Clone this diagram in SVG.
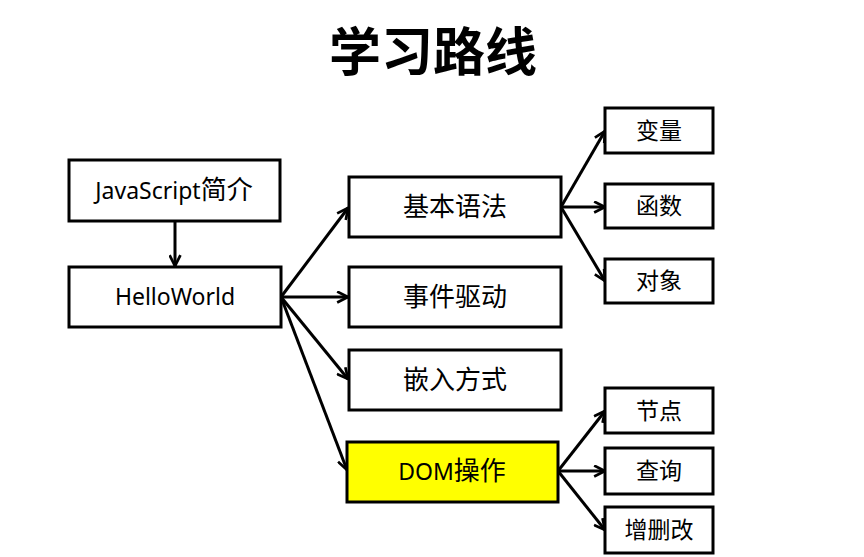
<svg xmlns="http://www.w3.org/2000/svg" width="864" height="557" viewBox="0 0 864 557">
<style>
.box{fill:#fff;stroke:#000;stroke-width:3}
.hl{fill:#ffff00}
.t{font-family:"Noto Sans","Noto Sans CJK SC",sans-serif;font-size:23px;fill:#000;text-anchor:middle}
.c{font-family:"Noto Sans CJK SC",sans-serif;font-size:26px}
.s{font-family:"Noto Sans CJK SC",sans-serif;font-size:23px;fill:#000;text-anchor:middle}
.title{font-family:"Noto Sans CJK SC",sans-serif;font-size:52px;font-weight:bold;fill:#000;text-anchor:middle}
.e{fill:none;stroke:#000;stroke-width:3}
</style>
<defs>
<marker id="ah" viewBox="0 0 12 12" refX="11" refY="6" markerWidth="13" markerHeight="13" markerUnits="userSpaceOnUse" orient="auto">
<path d="M1,1 L11,6 L1,11" fill="none" stroke="#000" stroke-width="2.5"/>
</marker>
</defs>
<rect width="864" height="557" fill="#fff"/>
<text class="title" x="433" y="71">学习路线</text>
<g id="connectors">
<line class="e" x1="175" y1="221" x2="175" y2="266" marker-end="url(#ah)"/>
<line class="e" x1="281" y1="297" x2="348" y2="208" marker-end="url(#ah)"/>
<line class="e" x1="281" y1="297" x2="348" y2="297" marker-end="url(#ah)"/>
<line class="e" x1="281" y1="297" x2="348" y2="379" marker-end="url(#ah)"/>
<line class="e" x1="281" y1="297" x2="347" y2="470" marker-end="url(#ah)"/>
<line class="e" x1="561" y1="207" x2="605" y2="131" marker-end="url(#ah)"/>
<line class="e" x1="561" y1="207" x2="605" y2="207" marker-end="url(#ah)"/>
<line class="e" x1="561" y1="207" x2="605" y2="281" marker-end="url(#ah)"/>
<line class="e" x1="558" y1="471" x2="605" y2="411" marker-end="url(#ah)"/>
<line class="e" x1="558" y1="471" x2="605" y2="471" marker-end="url(#ah)"/>
<line class="e" x1="558" y1="471" x2="605" y2="530" marker-end="url(#ah)"/>
</g>
<g id="n-intro"><rect class="box" x="69" y="160" width="211" height="61"/><text class="t" x="174" y="199">JavaScript<tspan class="c">简介</tspan></text></g>
<g id="n-hello"><rect class="box" x="69" y="267" width="212" height="60"/><text class="t" x="175" y="305">HelloWorld</text></g>
<g id="n-syntax"><rect class="box" x="349" y="177" width="212" height="60"/><text class="t" x="455" y="216"><tspan class="c">基本语法</tspan></text></g>
<g id="n-event"><rect class="box" x="349" y="267" width="212" height="60"/><text class="t" x="455" y="306"><tspan class="c">事件驱动</tspan></text></g>
<g id="n-embed"><rect class="box" x="349" y="350" width="212" height="60"/><text class="t" x="455" y="389"><tspan class="c">嵌入方式</tspan></text></g>
<g id="n-dom"><rect class="box hl" x="347" y="442" width="211" height="60"/><text class="t" x="452" y="480">DOM<tspan class="c">操作</tspan></text></g>
<g id="n-var"><rect class="box" x="605" y="108" width="108" height="45"/><text class="s" x="659" y="139">变量</text></g>
<g id="n-func"><rect class="box" x="605" y="184" width="108" height="44"/><text class="s" x="659" y="214">函数</text></g>
<g id="n-obj"><rect class="box" x="605" y="259" width="108" height="44"/><text class="s" x="659" y="289">对象</text></g>
<g id="n-node"><rect class="box" x="605" y="388" width="108" height="45"/><text class="s" x="659" y="419">节点</text></g>
<g id="n-query"><rect class="box" x="605" y="448" width="108" height="46"/><text class="s" x="659" y="479">查询</text></g>
<g id="n-crud"><rect class="box" x="605" y="507" width="108" height="46"/><text class="s" x="659" y="538">增删改</text></g>
</svg>
